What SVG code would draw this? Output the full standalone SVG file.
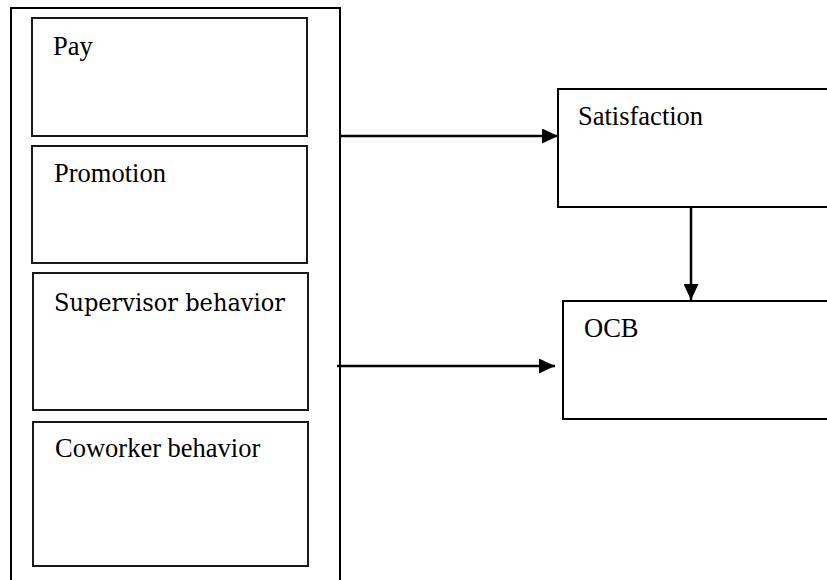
<svg xmlns="http://www.w3.org/2000/svg" width="827" height="580" viewBox="0 0 827 580">
<style>
.box{fill:#fff;stroke:#000;stroke-width:2}
.inner{fill:#fff;stroke:#1a1a1a;stroke-width:2}
.lbl{font-family:"Liberation Serif","Times New Roman",serif;font-size:26.5px;fill:#000}
.lbl2{font-family:"DejaVu Serif",serif;font-size:24px;fill:#000}
.conn{stroke:#000;stroke-width:2.5;fill:none}
</style>
<defs>
<marker id="ah" markerUnits="userSpaceOnUse" markerWidth="17" markerHeight="15" refX="16" refY="7.5" orient="auto">
<path d="M0,0 L16,7.5 L0,15 Z" fill="#000"/>
</marker>
</defs>
<rect width="827" height="580" fill="#fff"/>
<g id="factors">
<path class="box" d="M11,590 L11,8 L340,8 L340,590" fill="none"/>
</g>
<g id="pay">
<rect class="inner" x="32" y="18" width="275" height="118"/>
<text class="lbl" x="53" y="55">Pay</text>
</g>
<g id="promotion">
<rect class="inner" x="32" y="146" width="275" height="117"/>
<text class="lbl" x="54" y="182">Promotion</text>
</g>
<g id="supervisor">
<rect class="inner" x="33" y="273" width="275" height="137"/>
<text class="lbl2" x="54" y="311" textLength="231" lengthAdjust="spacingAndGlyphs">Supervisor behavior</text>
</g>
<g id="coworker">
<rect class="inner" x="33" y="422" width="275" height="144"/>
<text class="lbl" x="55" y="457">Coworker behavior</text>
</g>
<g id="satisfaction">
<rect class="box" x="558" y="89" width="280" height="118"/>
<text class="lbl" x="578" y="125">Satisfaction</text>
</g>
<g id="ocb">
<rect class="box" x="563" y="301" width="280" height="118"/>
<text class="lbl" x="584" y="337">OCB</text>
</g>
<g id="connectors">
<line class="conn" x1="341" y1="136" x2="558" y2="136" marker-end="url(#ah)"/>
<line class="conn" x1="337" y1="366" x2="555" y2="366" marker-end="url(#ah)"/>
<line class="conn" x1="691" y1="207" x2="691" y2="300" marker-end="url(#ah)"/>
</g>
</svg>
